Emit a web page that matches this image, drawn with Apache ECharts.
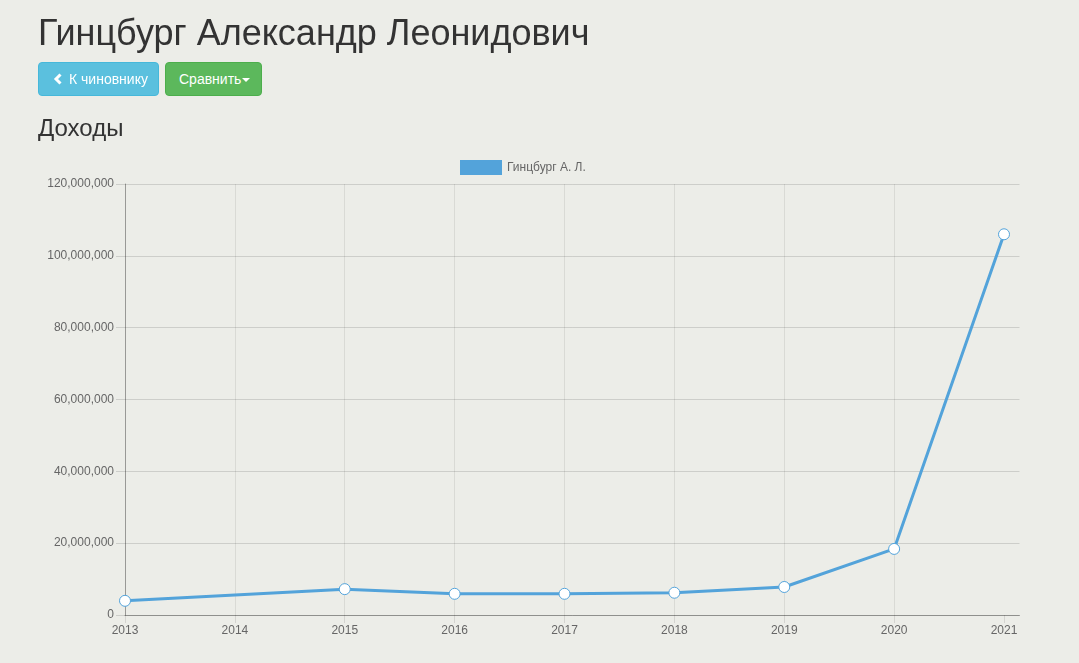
<!DOCTYPE html>
<html>
<head>
<meta charset="utf-8">
<script src="https://cdn.jsdelivr.net/npm/echarts@6/dist/echarts.min.js"></script>
<style>
  html, body { margin: 0; padding: 0; width: 1079px; height: 663px; overflow: hidden;
    background: #ecede8; font-family: "Liberation Sans", Arial, Helvetica, sans-serif; }
  #chart { position: absolute; left: 0; top: 0; width: 1079px; height: 663px; z-index: 0; }
  .h1 { position: absolute; left: 38px; top: 15px; font-size: 36px; line-height: 36px; color: #333; z-index: 1; white-space: nowrap; }
  .h3 { position: absolute; left: 38px; top: 116px; font-size: 24px; line-height: 24px; color: #333; z-index: 1; white-space: nowrap; }
  .btn { position: absolute; top: 62px; height: 34px; box-sizing: border-box; border-radius: 4px; color: #fff;
    font-size: 14px; line-height: 32px; z-index: 1; white-space: nowrap; }
  .btn-info { left: 38px; width: 121px; background: #5bc0de; border: 1px solid #46b8da; }
  .btn-success { left: 165px; width: 97px; background: #5cb85c; border: 1px solid #4cae4c; }
  .btn-info svg { position: absolute; left: 14px; top: 10px; }
  .btn-info span { position: absolute; left: 30px; }
  .btn-success span { position: absolute; left: 13px; }
  .caret { position: absolute; left: 76px; top: 15px; width: 0; height: 0; border-top: 4px solid #fff; border-left: 4px solid transparent; border-right: 4px solid transparent; }
</style>
</head>
<body>
<div id="chart"></div>
<div class="h1">Гинцбург Александр Леонидович</div>
<div class="btn btn-info"><svg width="10" height="12" viewBox="0 0 10 12"><polyline points="7.5,1.5 3,6 7.5,10.5" fill="none" stroke="#fff" stroke-width="3"/></svg><span>К чиновнику</span></div>
<div class="btn btn-success"><span>Сравнить</span><div class="caret"></div></div>
<div class="h3">Доходы</div>
<script>
const seriesName = 'Гинцбург А. Л.';
const years = [2013, 2014, 2015, 2016, 2017, 2018, 2019, 2020, 2021];
const incomes = [3950000, null, 7200000, 5900000, 5900000, 6200000, 7800000, 18400000, 106000000];
const yTicks = [0, 20000000, 40000000, 60000000, 80000000, 100000000, 120000000];

const lineColor = '#53a3da';
const chart = echarts.init(document.getElementById('chart'));
const points = years.map((y, i) => [y, incomes[i]]);
const fmt = v => Number(v).toLocaleString('en-US');

chart.setOption({
  animation: false,
  textStyle: { fontFamily: '"Liberation Sans", Arial, Helvetica, sans-serif' },
  legend: {
    left: 460, top: 160, padding: 0,
    itemWidth: 42, itemHeight: 15,
    icon: 'rect',
    itemStyle: { color: lineColor, borderWidth: 0 },
    textStyle: { color: '#666', fontSize: 12 },
    data: [seriesName]
  },
  grid: { left: 125, right: 59.5, top: 184, bottom: 48, containLabel: false },
  xAxis: {
    type: 'value',
    min: years[0],
    max: years[0] + 8 * 894.5 / 879,
    interval: 1,
    axisLine: { show: true, onZero: false, lineStyle: { color: 'rgba(0,0,0,0.3)', width: 1 } },
    axisTick: { show: true, length: 8, customValues: years, lineStyle: { color: 'rgba(0,0,0,0.1)' } },
    axisLabel: { customValues: years, color: '#666', fontSize: 12, margin: 10,
      formatter: v => (Number.isInteger(v) ? String(v) : '') },
    splitLine: { show: true, showMaxLine: false, lineStyle: { color: 'rgba(0,0,0,0.08)', width: 1 } }
  },
  yAxis: {
    type: 'value',
    min: yTicks[0],
    max: yTicks[yTicks.length - 1],
    interval: yTicks[1] - yTicks[0],
    axisLine: { show: true, lineStyle: { color: 'rgba(0,0,0,0.3)', width: 1 } },
    axisTick: { show: true, length: 9, lineStyle: { color: 'rgba(0,0,0,0.13)' } },
    axisLabel: { color: '#666', fontSize: 12, margin: 11, formatter: fmt },
    splitLine: { show: true, lineStyle: { color: 'rgba(0,0,0,0.13)', width: 1 } }
  },
  series: [{
    name: seriesName,
    type: 'line',
    data: points,
    connectNulls: true,
    symbol: 'circle',
    symbolSize: 11,
    showSymbol: true,
    lineStyle: { color: lineColor, width: 3 },
    itemStyle: { color: '#fff', borderColor: lineColor, borderWidth: 1 },
    z: 3
  }]
});
</script>
</body>
</html>
